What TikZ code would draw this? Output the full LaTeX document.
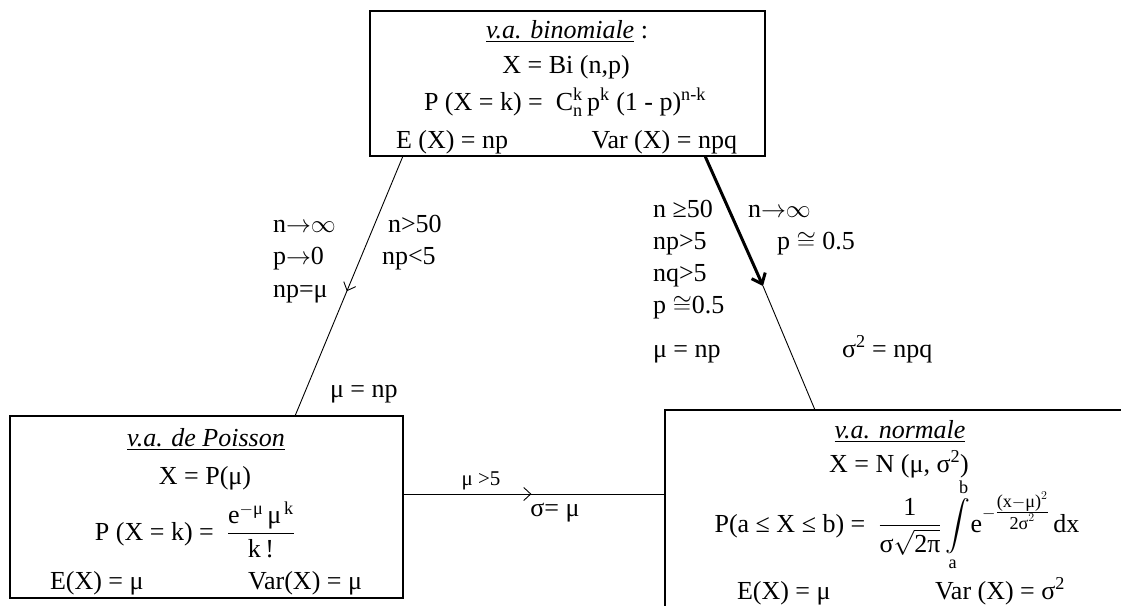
\documentclass[tikz,border=0pt]{standalone}
\usepackage{amsmath}
\usepackage{fontspec}
\setmainfont{Liberation Serif}
\usetikzlibrary{arrows.meta,calc,decorations.markings}
\tikzset{
  txt/.style={font=\fontsize{26}{30}\selectfont, inner sep=0pt, outer sep=0pt},
  ctr/.style={txt, anchor=base},
  lft/.style={txt, anchor=base west},
  rgt/.style={txt, anchor=base east},
  dbox/.style={draw, line width=2.5pt, inner sep=0pt, outer sep=0pt},
  conn/.style={line width=0.9pt},
  midarrow/.style={postaction={decorate}, decoration={markings,
      mark=at position #1 with {\arrow{Straight Barb[length=7pt,width=13pt,line width=0.9pt]}}}},
  thickarrow/.style={line width=3pt, -{Straight Barb[length=9pt,width=15pt]}}
}
\newcommand{\toinf}{$\mathord{\rightarrow}\mathord{\infty}$}
\begin{document}
\begin{tikzpicture}[x=1pt,y=-1pt]
\useasboundingbox (0,0) rectangle (1121,605);
\clip (0,0) rectangle (1121,605);
% boxes
\node[dbox, minimum width=395pt, minimum height=145pt] (bin) at (567.5,83.5) {};
\node[dbox, minimum width=393pt, minimum height=182pt] (poi) at (206.5,507) {};
\node[dbox, minimum width=470pt, minimum height=210pt] (nor) at (900,515) {};
% binomial text
\node[ctr] (b1) at (567,38) {\underline{\textit{v.a. binomiale}} :};
\node[ctr] (b2) at (566,73) {X = Bi (n,p)};
\node[ctr] (b3) at (565,110) {P (X = k) = \ C$^{\text{k}}_{\text{n}}$\,p\textsuperscript{k} (1 - p)\textsuperscript{n-k}};
\node[lft] (b4) at (396,148) {E (X) = np};
\node[rgt] (b5) at (737,148) {Var (X) = npq};
% poisson text
\node[ctr] (p1) at (206,446) {\underline{\textit{v.a. de Poisson}}};
\node[ctr] (p2) at (205,484) {X = P(μ)};
\node[ctr] (p3) at (195,540) {P (X = k) = \ $\dfrac{\text{e}^{-\text{μ}}\,\text{μ}^{\,\text{k}}}{\text{k\,!}}$};
\node[lft] (p4) at (50,589) {E(X) = μ};
\node[rgt] (p5) at (362,589) {Var(X) = μ};
% normal text
\node[ctr] (n1) at (900,438) {\underline{\textit{v.a. normale}}};
\node[ctr] (n2) at (899,472) {X = N (μ, σ\textsuperscript{2})};
\node[ctr] (n3) at (897,532) {P(a ≤ X ≤ b) = \ $\dfrac{\text{1}}{\text{σ}\sqrt{\text{2π}}}\displaystyle\int\limits_{\text{a}}^{\text{b}}\!\text{e}^{-\genfrac{}{}{}{1}{\text{(x}-\text{μ)}^{2}}{\text{2σ}^{2}}}\mkern3mu\text{dx}$};
\node[lft] (n4) at (737,599) {E(X) = μ};
\node[rgt] (n5) at (1065,599) {Var (X) = σ\textsuperscript{2}};
% connectors
\coordinate (tip) at (763,286);
\draw[conn, midarrow=0.52] ($(bin.south west)+(33,0)$) -- ($(poi.north west)+(285,0)$);
\draw[thickarrow] ($(bin.south west)+(335,0)$) -- (tip);
\draw[conn] (tip) -- ($(nor.north west)+(150,0)$);
\draw[conn, midarrow=0.49] ($(poi.north east)+(0,78)$) -- ($(nor.north west)+(0,84)$);
% left labels
\node[lft] (l1) at (273,232) {n\toinf};
\node[lft] (l2) at (273,264) {p$\mathord{\rightarrow}$0};
\node[lft] (l3) at (273,297) {np=μ};
\node[lft] (l4) at (388,232) {n>50};
\node[lft] (l5) at (382,264) {np<5};
\node[lft] (l6) at (330,397) {μ = np};
% right labels
\node[lft] (r1) at (653,217) {n ≥50};
\node[lft] (r2) at (653,249) {np>5};
\node[lft] (r3) at (653,281) {nq>5};
\node[lft] (r4) at (653,313) {p $\cong$0.5};
\node[lft] (r5) at (653,357) {μ = np};
\node[lft] (r6) at (748,217) {n\toinf};
\node[lft] (r7) at (777,249) {p $\cong$ 0.5};
\node[lft] (r8) at (842,357) {σ\textsuperscript{2} = npq};
% horizontal labels
\node[ctr, font=\fontsize{21}{25}\selectfont] (h1) at (481,485) {μ >5};
\node[ctr] (h2) at (555,516) {σ= μ};
\end{tikzpicture}
\end{document}
